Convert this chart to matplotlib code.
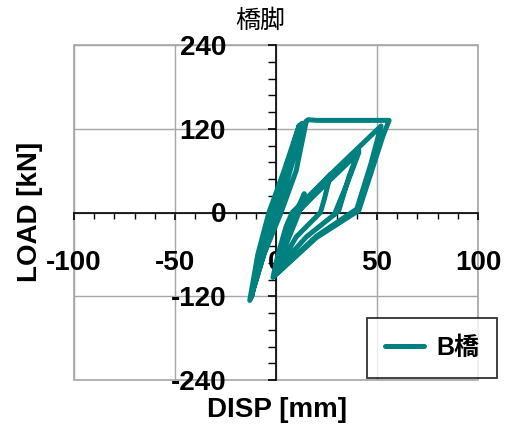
import matplotlib
matplotlib.use("Agg")
import matplotlib.pyplot as plt
from matplotlib.ticker import MultipleLocator
from matplotlib.patches import Rectangle

# ---- data ----
disp = [0, 6, 13.5,
        9, 1, -6, -13,
        -9, -3.5, 4, 11.5,
        6, -2, -8, -12,
        -8.5, -1, 7, 12.5,
        8, 0.5, -7, -12.5,
        -6, 2.5, 10, 15, 16, 20, 56,
        53, 41, 20, -1.5,
        1, 5, 8, 30, 52,
        47, 40, 20, 0,
        4, 9, 25, 41,
        36, 31, 15, 1,
        5, 8, 27,
        24, 22, 10, 2,
        6, 14,
        12, 10, 3,
        7, 12, 28, 41,
        35, 29]
load = [0, 60, 128,
        80, 0, -60, -126,
        -60, 0, 60, 125,
        70, 0, -60, -120,
        -60, 0, 65, 127,
        75, 0, -60, -123,
        -60, 0, 60, 131, 133, 132, 132,
        110, 3, -36, -93,
        -60, -20, 0, 63, 124,
        70, 5, -34, -88,
        -40, -5, 45, 89,
        50, 2, -35, -80,
        -30, -5, 55,
        20, 0, -35, -75,
        -25, 27,
        5, -10, -60,
        -20, 5, 50, 86,
        40, -2]

series_name = "B橋"
title = "橋脚"
xlabel = "DISP [mm]"
ylabel = "LOAD [kN]"
xticks = [-100, -50, 0, 50, 100]
yticks = [-240, -120, 0, 120, 240]

color = "#00807F"

W, H = 511, 430
fig = plt.figure(figsize=(W / 100, H / 100), dpi=100)
L, R, T, B = 74, 478, 45, 380
ax = fig.add_axes([L / W, 1 - B / H, (R - L) / W, (B - T) / H])

ax.plot(disp, load, color=color, lw=3.6, solid_joinstyle="round",
        solid_capstyle="round", label=series_name, zorder=3)

ax.set_xlim(-100, 100)
ax.set_ylim(-240, 240)
ax.set_xticks(xticks)
ax.set_yticks(yticks)
ax.set_xticklabels([str(v) for v in xticks])
ax.set_yticklabels([str(v) for v in yticks])
ax.xaxis.set_minor_locator(MultipleLocator(10))
ax.yaxis.set_minor_locator(MultipleLocator(24))
ax.grid(True, which="major", color="#a6a6a6", lw=1.0, zorder=0)

for s in ["top", "right"]:
    ax.spines[s].set_visible(False)
ax.spines["left"].set_position(("data", 0))
ax.spines["bottom"].set_position(("data", 0))
for s in ["left", "bottom"]:
    ax.spines[s].set_color("black")
    ax.spines[s].set_linewidth(1.2)
    ax.spines[s].set_zorder(2)

ax.add_patch(Rectangle((0, 0), 1, 1, transform=ax.transAxes, fill=False,
                       edgecolor="#a6a6a6", lw=1.2, clip_on=False, zorder=1))

ax.tick_params(axis="x", which="major", direction="out", length=5, width=1.2,
               pad=22, labelsize=20)
ax.tick_params(axis="x", which="minor", direction="out", length=4, width=1.0)
ax.tick_params(axis="y", which="major", direction="out", length=6, width=1.2,
               pad=30, labelsize=20)
ax.tick_params(axis="y", which="minor", direction="out", length=6, width=1.0)
for lab in ax.get_xticklabels() + ax.get_yticklabels():
    lab.set_fontfamily("Liberation Sans")
    lab.set_fontweight("bold")

fig.text(260 / W, 1 - 21 / H, title, ha="center", va="center",
         family=["Noto Sans CJK JP"], fontsize=18)
fig.text(277 / W, 1 - 410 / H, xlabel, ha="center", va="center",
         family="Liberation Sans", weight="bold", fontsize=20)
fig.text(30 / W, 1 - 212 / H, ylabel, ha="center", va="center", rotation=90,
         family="Liberation Sans", weight="bold", fontsize=20)

leg = ax.legend(loc="lower right", bbox_to_anchor=(497 / W, 1 - 378 / H),
                bbox_transform=fig.transFigure,
                prop=dict(family=["Liberation Sans", "Noto Sans CJK JP"],
                          weight="bold", size=18),
                frameon=True, fancybox=False, edgecolor="black",
                handlelength=1.55, borderpad=0.72, borderaxespad=0,
                handletextpad=0.5)
leg.get_frame().set_linewidth(1.3)
leg.set_zorder(5)

fig.savefig("out.png", dpi=100)
